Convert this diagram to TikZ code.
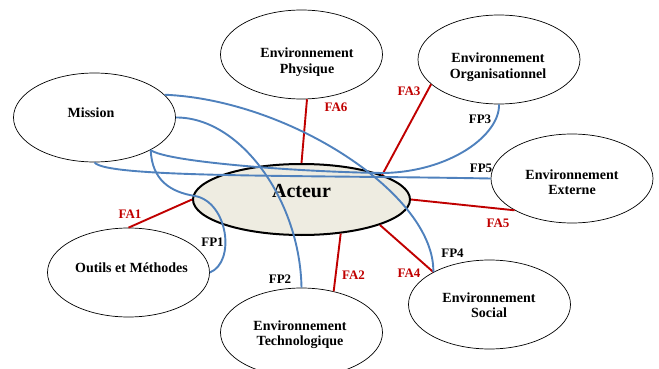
\documentclass[tikz,border=0pt]{standalone}
\usepackage{fontspec}
\setmainfont{Liberation Serif}
\usetikzlibrary{shapes.geometric}
\definecolor{fpblue}{HTML}{4F81BD}
\definecolor{fared}{HTML}{C00000}
\definecolor{acteurfill}{HTML}{EEECE1}
\begin{document}
\begin{tikzpicture}[x=1pt,y=-1pt,
  env/.style={draw=black, line width=0.7pt, ellipse, inner sep=0pt,
    minimum width=162pt, minimum height=89pt, fill=white},
  envtext/.style={font=\bfseries\fontsize{14}{15.5}\selectfont, align=center, inner sep=0pt},
  fa/.style={draw=fared, line width=1.9pt},
  fp/.style={draw=fpblue, line width=1.9pt},
  falabel/.style={text=fared, font=\bfseries\fontsize{13}{13}\selectfont, inner sep=0pt},
  fplabel/.style={text=black, font=\bfseries\fontsize{13}{13}\selectfont, inner sep=0pt}]
\useasboundingbox (0,0) rectangle (659,369);
% ellipses
\node[env] (mission) at (94.5,117.5) {};
\node[env] (phys) at (301.5,54.5) {};
\node[env] (org) at (499,59.5) {};
\node[env] (ext) at (572,178.5) {};
\node[env] (social) at (489.5,304.5) {};
\node[env] (tech) at (301.5,332.5) {};
\node[env] (outils) at (128.5,272.5) {};
\node[draw=black, line width=2pt, ellipse, inner sep=0pt, fill=acteurfill,
  minimum width=217pt, minimum height=71pt] (acteur) at (301.5,199.5) {};
% texts
\node[envtext, anchor=base] (missionT) at (91,117.6) {Mission};
\node[envtext] (physT) at (307,62.2) {Environnement\\Physique};
\node[envtext] (orgT) at (498,67.2) {Environnement\\Organisationnel};
\node[envtext] (extT) at (572,182.4) {Environnement\\Externe};
\node[envtext] (socialT) at (489,305.1) {Environnement\\Social};
\node[envtext] (techT) at (300,334.6) {Environnement\\Technologique};
\node[envtext, anchor=base] (outilsT) at (131.5,272) {Outils et Méthodes};
\node[inner sep=0pt, anchor=base, font=\bfseries\fontsize{20}{20}\selectfont] (acteurT) at (301.5,197) {Acteur};
% red FA lines
\draw[fa] (acteur.west) -- (outils.north);
\draw[fa] (acteur.north) -- (phys.-83);
\draw[fa] (acteur.17) -- (org.200);
\draw[fa] (acteur.east) -- (ext.209);
\draw[fa] (acteur.-18) -- (social.150);
\draw[fa] (acteur.-41) -- (tech.52);
% blue FP curves
\draw[fp] (mission.18) .. controls (290,100) and (435,195) .. (social.150);
\draw[fp] (mission.east) .. controls (240,117) and (300,200) .. (tech.north);
\draw[fp] (mission.-30) .. controls (152,180) and (170,192) .. (195,196)
  .. controls (228,202) and (236,262) .. (outils.east);
\draw[fp] (mission.-30) .. controls (165,162) and (300,172) .. (383,173)
  .. controls (450,172) and (500,135) .. (org.south);
\draw[fp] (mission.south) .. controls (105,178) and (300,175) .. (ext.west);
% labels
\node[falabel] (fa1) at (130,214) {FA1};
\node[falabel] (fa6) at (336,107.5) {FA6};
\node[falabel] (fa3) at (409,91) {FA3};
\node[falabel] (fa5) at (498,223) {FA5};
\node[falabel] (fa4) at (409,273.5) {FA4};
\node[falabel] (fa2) at (353.5,275.5) {FA2};
\node[fplabel] (fp1) at (212.5,242) {FP1};
\node[fplabel] (fp2) at (280,279.5) {FP2};
\node[fplabel] (fp3) at (480,119) {FP3};
\node[fplabel] (fp4) at (452.5,253) {FP4};
\node[fplabel] (fp5) at (481,168) {FP5};
\end{tikzpicture}
\end{document}
